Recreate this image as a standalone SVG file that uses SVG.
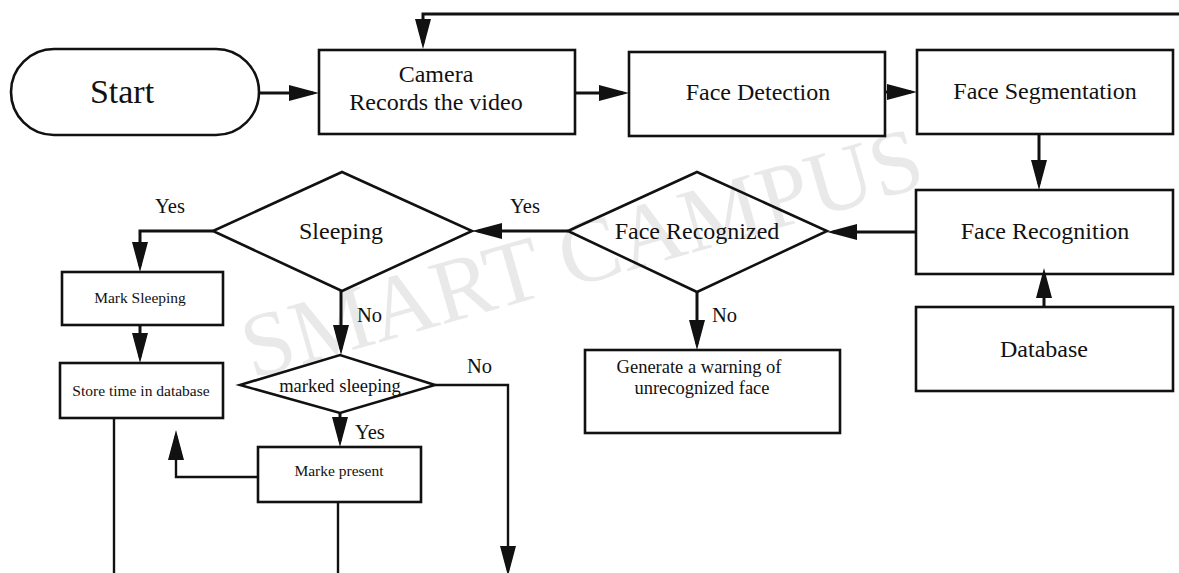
<svg xmlns="http://www.w3.org/2000/svg" width="1179" height="573" viewBox="0 0 1179 573">
  <defs>
    <style>
      .shape { fill: none; stroke: #111; stroke-width: 2.6; }
      .wire { fill: none; stroke: #111; stroke-width: 3; }
      .wire-thin { fill: none; stroke: #111; stroke-width: 2.4; }
      text { font-family: "Liberation Serif", "Times New Roman", serif; fill: #111; }
      .lg { font-size: 24px; text-anchor: middle; }
      .md { font-size: 18.5px; text-anchor: middle; }
      .sm { font-size: 15.5px; text-anchor: middle; }
      .lbl { font-size: 20.5px; }
      .mark { font-size: 91px; fill: #e9e9e9; }
    </style>
    <marker id="arrow" markerUnits="userSpaceOnUse" viewBox="0 0 30 16" markerWidth="30" markerHeight="16" refX="24" refY="8" orient="auto">
      <path d="M0,0 L30,8 L0,16 Z" fill="#111"/>
    </marker>
  </defs>

  <rect width="1179" height="573" fill="#fff"/>

  <!-- background watermark -->
  <text class="mark" transform="translate(252,379) rotate(-16)">SMART CAMPUS</text>

  <!-- connectors -->
  <g id="connectors">
    <path class="wire" d="M259,93 H313" marker-end="url(#arrow)"/>
    <path class="wire" d="M575,93 H623" marker-end="url(#arrow)"/>
    <path class="wire" d="M885,92 H911" marker-end="url(#arrow)"/>
    <path class="wire" d="M1039,134 V184" marker-end="url(#arrow)"/>
    <path class="wire" d="M1044,307 V274" marker-end="url(#arrow)"/>
    <path class="wire" d="M916,232 H833" marker-end="url(#arrow)"/>
    <path class="wire" d="M568,231 H478" marker-end="url(#arrow)"/>
    <path class="wire" d="M697,292 V344" marker-end="url(#arrow)"/>
    <path class="wire" d="M213,231 H140 V266" marker-end="url(#arrow)"/>
    <path class="wire" d="M140,325 V357" marker-end="url(#arrow)"/>
    <path class="wire" d="M341,291 V349" marker-end="url(#arrow)"/>
    <path class="wire" d="M340,413 V441" marker-end="url(#arrow)"/>
    <path class="wire-thin" d="M435,385 H508 V570" marker-end="url(#arrow)"/>
    <path class="wire-thin" d="M258,477 H176 V436" marker-end="url(#arrow)"/>
    <path class="wire-thin" d="M114,418 V573"/>
    <path class="wire-thin" d="M338,502 V573"/>
    <path class="wire" d="M1179,14 H423 V43" marker-end="url(#arrow)"/>
    <!-- branch labels -->
    <text class="lbl" x="525" y="213" text-anchor="middle">Yes</text>
    <text class="lbl" x="170" y="213" text-anchor="middle">Yes</text>
    <text class="lbl" x="357" y="322">No</text>
    <text class="lbl" x="712" y="322">No</text>
    <text class="lbl" x="467" y="373">No</text>
    <text class="lbl" x="355" y="439">Yes</text>
  </g>

  <g id="start">
    <rect class="shape" x="11" y="49" width="248" height="86" rx="43" ry="43"/>
    <text x="122" y="103" font-size="34" text-anchor="middle">Start</text>
  </g>

  <g id="camera">
    <rect class="shape" x="319" y="50" width="256" height="84"/>
    <text class="lg" x="436" y="82">Camera</text>
    <text class="lg" x="436" y="110">Records the video</text>
  </g>

  <g id="face-detection">
    <rect class="shape" x="629" y="52" width="256" height="84"/>
    <text class="lg" x="758" y="100">Face Detection</text>
  </g>

  <g id="face-segmentation">
    <rect class="shape" x="917" y="50" width="256" height="84"/>
    <text class="lg" x="1045" y="99">Face Segmentation</text>
  </g>

  <g id="face-recognition">
    <rect class="shape" x="916" y="190" width="257" height="84"/>
    <text class="lg" x="1045" y="239">Face Recognition</text>
  </g>

  <g id="database">
    <rect class="shape" x="916" y="307" width="257" height="84"/>
    <text class="lg" x="1044" y="357">Database</text>
  </g>

  <g id="face-recognized">
    <polygon class="shape" points="568,231 697,172 827,231 697,292"/>
    <text class="lg" x="697" y="239">Face Recognized</text>
  </g>

  <g id="sleeping">
    <polygon class="shape" points="213,231 342,172 472,231 342,291"/>
    <text class="lg" x="341" y="239">Sleeping</text>
  </g>

  <g id="warning">
    <rect class="shape" x="585" y="350" width="255" height="83"/>
    <text class="md" x="699" y="373">Generate a warning of</text>
    <text class="md" x="702" y="394">unrecognized face</text>
  </g>

  <g id="mark-sleeping">
    <rect class="shape" x="62" y="272" width="161" height="53"/>
    <text class="sm" x="140" y="303">Mark Sleeping</text>
  </g>

  <g id="store-time">
    <rect class="shape" x="60" y="363" width="163" height="55"/>
    <text class="sm" x="141" y="396">Store time in database</text>
  </g>

  <g id="marked-sleeping">
    <polygon class="shape" points="240,385 340,355 435,385 340,413"/>
    <text class="md" x="340" y="392">marked sleeping</text>
  </g>

  <g id="marke-present">
    <rect class="shape" x="258" y="447" width="163" height="55"/>
    <text class="sm" x="339" y="476">Marke present</text>
  </g>
</svg>
